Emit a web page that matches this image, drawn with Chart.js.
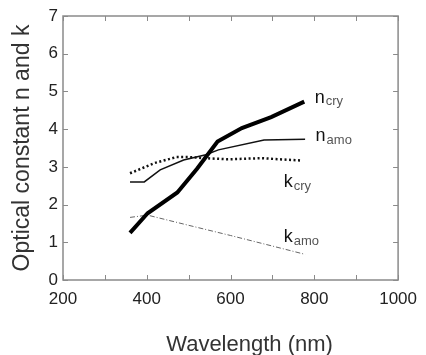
<!DOCTYPE html>
<html><head><meta charset="utf-8">
<script src="https://cdn.jsdelivr.net/npm/chart.js@4"></script>
<style>html,body{margin:0;padding:0;background:#fff}#wrap{width:426px;height:355px}</style>
</head><body><div id="wrap"><canvas id="c" width="426" height="355"></canvas></div>
<script>
const nCryX = [360, 402, 473, 520, 569, 627, 697, 776];
const nCryY = [1.25, 1.77, 2.32, 2.95, 3.67, 4.03, 4.32, 4.73];
const nAmoX = [360, 394, 432, 488, 541, 571, 680, 778];
const nAmoY = [2.6, 2.6, 2.92, 3.18, 3.32, 3.45, 3.71, 3.73];
const kCryX = [360, 418, 471, 499, 541, 594, 673, 766];
const kCryY = [2.83, 3.1, 3.26, 3.26, 3.23, 3.2, 3.23, 3.17];
const kAmoX = [360, 402, 500, 600, 700, 778];
const kAmoY = [1.66, 1.72, 1.45, 1.18, 0.9, 0.68];
const seriesLabels = [
  {main: 'n', sub: 'cry', x: 801, y: 4.83},
  {main: 'n', sub: 'amo', x: 803, y: 3.82},
  {main: 'k', sub: 'cry', x: 727, y: 2.6},
  {main: 'k', sub: 'amo', x: 727, y: 1.14}
];
const xTitle = 'Wavelength (nm)';
const yTitle = 'Optical constant n and k';

const pts = (xs, ys) => xs.map((x, i) => ({x, y: ys[i]}));

const decor = {
  id: 'decor',
  afterDraw(chart) {
    const ctx = chart.ctx, a = chart.chartArea;
    const xs = chart.scales.x, ys = chart.scales.y;
    ctx.save();
    ctx.strokeStyle = '#8a8a8a';
    ctx.lineWidth = 1.5;
    ctx.strokeRect(a.left, a.top, a.right - a.left, a.bottom - a.top);
    ctx.lineWidth = 1;
    const tl = 5;
    xs.ticks.forEach(t => {
      const px = Math.round(xs.getPixelForValue(t.value)) + 0.5;
      ctx.beginPath();
      ctx.moveTo(px, a.bottom); ctx.lineTo(px, a.bottom - tl);
      ctx.moveTo(px, a.top); ctx.lineTo(px, a.top + tl);
      ctx.stroke();
    });
    ys.ticks.forEach(t => {
      const py = Math.round(ys.getPixelForValue(t.value)) + 0.5;
      ctx.beginPath();
      ctx.moveTo(a.left, py); ctx.lineTo(a.left + tl, py);
      ctx.moveTo(a.right, py); ctx.lineTo(a.right - tl, py);
      ctx.stroke();
    });
    ctx.textBaseline = 'middle';
    seriesLabels.forEach(l => {
      const px = xs.getPixelForValue(l.x), py = ys.getPixelForValue(l.y);
      ctx.fillStyle = '#111';
      ctx.font = '18px "Liberation Sans", Arial, sans-serif';
      ctx.fillText(l.main, px, py);
      const w = ctx.measureText(l.main).width;
      ctx.fillStyle = '#555';
      ctx.font = '13px "Liberation Sans", Arial, sans-serif';
      ctx.fillText(l.sub, px + w + 1, py + 4);
    });
    ctx.fillStyle = '#333';
    ctx.font = '22px "Liberation Sans", Arial, sans-serif';
    ctx.textAlign = 'center';
    ctx.fillText(xTitle, (a.left + a.right) / 2 + 19, 345);
    ctx.restore();
  }
};

new Chart(document.getElementById('c'), {
  type: 'line',
  data: {
    datasets: [
      {data: pts(nCryX, nCryY), borderColor: '#000', borderWidth: 4, pointRadius: 0, tension: 0},
      {data: pts(nAmoX, nAmoY), borderColor: '#111', borderWidth: 1.5, pointRadius: 0, tension: 0},
      {data: pts(kCryX, kCryY), borderColor: '#111', borderWidth: 2.5, borderDash: [2, 2.5], pointRadius: 0, tension: 0},
      {data: pts(kAmoX, kAmoY), borderColor: '#666', borderWidth: 1, borderDash: [5, 2, 1, 2], pointRadius: 0, tension: 0}
    ]
  },
  options: {
    responsive: false,
    animation: false,
    layout: {padding: {top: 16, right: 18, left: 0, bottom: 0}},
    plugins: {legend: {display: false}, tooltip: {enabled: false}},
    scales: {
      x: {
        type: 'linear', min: 200, max: 1000,
        grid: {display: false, drawTicks: false},
        border: {display: false},
        afterFit: s => { s.height = 75; },
        ticks: {stepSize: 100, padding: 9, maxRotation: 0, autoSkip: false, color: '#222',
          font: {family: '"Liberation Sans", Arial, sans-serif', size: 17},
          callback: v => (v % 200 === 0 ? String(v) : '')}
      },
      y: {
        min: 0, max: 7,
        grid: {display: false, drawTicks: false},
        border: {display: false},
        afterFit: s => { s.width = 63; },
        ticks: {stepSize: 1, padding: 5, color: '#222',
          font: {family: '"Liberation Sans", Arial, sans-serif', size: 17}},
        title: {display: true, text: yTitle, color: '#333', padding: {top: 11, bottom: 0},
          font: {family: '"Liberation Sans", Arial, sans-serif', size: 23, lineHeight: 1}}
      }
    }
  },
  plugins: [decor]
});
</script></body></html>
